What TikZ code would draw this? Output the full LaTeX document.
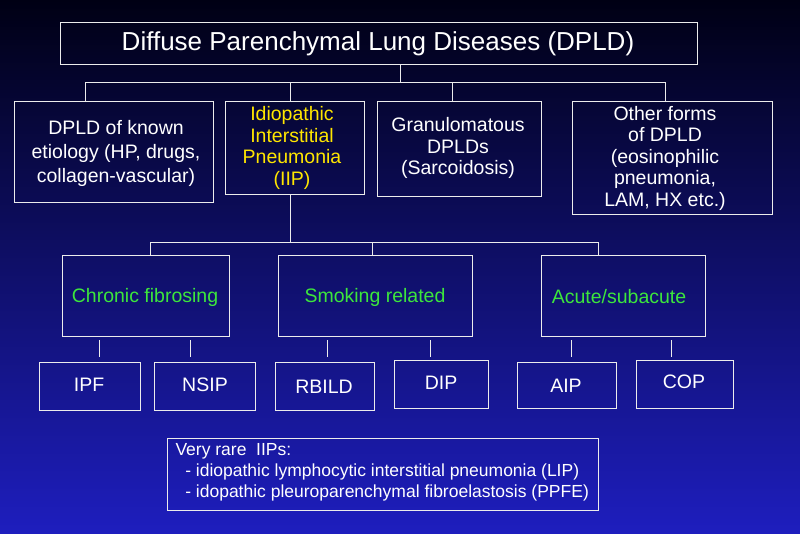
\documentclass[tikz,border=0pt]{standalone}
\usepackage{fontspec}
\setmainfont{Liberation Sans}
\begin{document}
\begin{tikzpicture}[x=1pt,y=-1pt,
 bx/.style={draw=white!85!gray,line width=0.8pt,inner sep=0pt},
 ln/.style={draw=white!85!gray,line width=0.8pt},
 tx/.style={font=\fontsize{19.5}{21.5}\selectfont,align=center,text=white}]
\shade[top color={rgb,255:red,0;green,0;blue,20},bottom color={rgb,255:red,30;green,30;blue,190}] (0,0) rectangle (800,533);
\useasboundingbox (0,0) rectangle (800,533);
\draw[bx] (60,22) rectangle (697,64);
\node[tx,font=\fontsize{26}{28}\selectfont] (t) at (378,44) {Diffuse Parenchymal Lung Diseases (DPLD)};
\draw[bx] (14,101) rectangle (213,202);
\draw[bx] (225,101) rectangle (364,194);
\draw[bx] (377,101) rectangle (541,196);
\draw[bx] (572,101) rectangle (772,214);
\node[tx,font=\fontsize{19.5}{24}\selectfont] (b1) at (116,153) {DPLD of known\\ etiology (HP, drugs,\\collagen-vascular)};
\node[tx,text={rgb,255:red,255;green,230;blue,0}] (b2) at (292,148) {Idiopathic\\ Interstitial\\Pneumonia\\(IIP)};
\node[tx] (b3) at (458,148) {Granulomatous\\DPLDs\\ (Sarcoidosis)};
\node[tx] (b4) at (665,158) {Other forms\\of DPLD\\(eosinophilic\\pneumonia,\\ LAM, HX etc.)};
\coordinate (j1) at (400,82);
\draw[ln] (400,64) -- (j1);
\draw[ln] (85,101) -- (85,82) -- (665,82) -- (665,101);
\draw[ln] (290,82) -- (290,101);
\draw[ln] (452,82) -- (452,101);
\draw[ln] (290,194) -- (290,242);
\draw[ln] (150,255) -- (150,242) -- (598,242) -- (598,255);
\draw[ln] (372,242) -- (372,255);
\draw[bx] (62,255) rectangle (229,336);
\draw[bx] (278,255) rectangle (472,336);
\draw[bx] (541,255) rectangle (705,336);
\node[tx,text={rgb,255:red,60;green,230;blue,60}] (c1) at (145,297) {Chronic fibrosing};
\node[tx,text={rgb,255:red,60;green,230;blue,60}] (c2) at (375,297) {Smoking related};
\node[tx,text={rgb,255:red,60;green,230;blue,60}] (c3) at (619,297) {Acute/subacute};
\foreach \x in {99,190,327,430,571,671} \draw[ln] (\x,340) -- (\x,357);
\draw[bx] (39,362) rectangle (140,410);
\draw[bx] (154,362) rectangle (255,410);
\draw[bx] (275,362) rectangle (374,410);
\draw[bx] (394,360) rectangle (488,408);
\draw[bx] (517,362) rectangle (616,408);
\draw[bx] (636,360) rectangle (733,408);
\node[tx] (d1) at (89,385) {IPF};
\node[tx] (d2) at (205,385) {NSIP};
\node[tx] (d3) at (324,387) {RBILD};
\node[tx] (d4) at (441,383) {DIP};
\node[tx] (d5) at (566,386) {AIP};
\node[tx] (d6) at (684,382) {COP};
\draw[bx] (167,438) rectangle (598,510);
\node[tx,align=left,anchor=north west,font=\fontsize{17.5}{21}\selectfont] (n) at (172,440) {Very rare\ \ IIPs:\\\ \ - idiopathic lymphocytic interstitial pneumonia (LIP)\\\ \ - idopathic pleuroparenchymal fibroelastosis (PPFE)};
\end{tikzpicture}
\end{document}
